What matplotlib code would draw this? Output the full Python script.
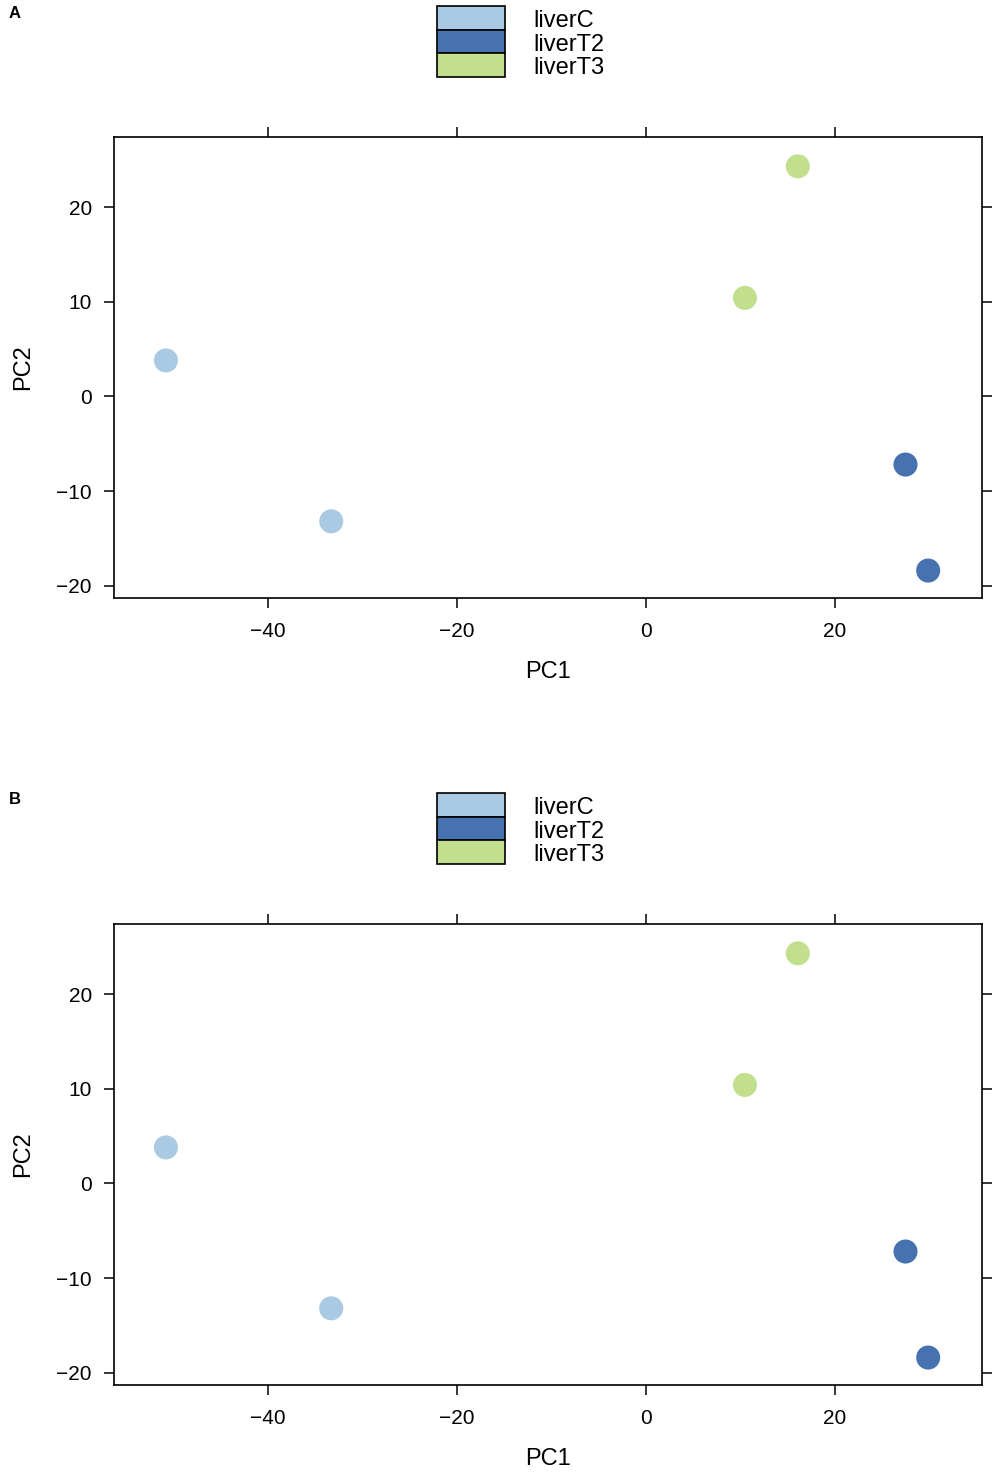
import numpy as np
import matplotlib
matplotlib.use('Agg')
import matplotlib.pyplot as plt
from matplotlib.patches import Rectangle

plt.rcParams['font.family'] = ['Liberation Sans', 'DejaVu Sans']

groups = ['liverC', 'liverT2', 'liverT3']
group_colors = ['#A9CAE2', '#4672B0', '#C1DF8C']
pc1_liverC = [-50.8, -33.3]
pc2_liverC = [3.8, -13.2]
pc1_liverT2 = [27.5, 29.9]
pc2_liverT2 = [-7.2, -18.4]
pc1_liverT3 = [10.5, 16.1]
pc2_liverT3 = [10.4, 24.3]
xticks = [-40, -20, 0, 20]
yticks = [-20, -10, 0, 10, 20]
panel_labels = ['A', 'B']

W, H = 1000, 1474
fig = plt.figure(figsize=(W / 100, H / 100), dpi=100)


def px(x, y):
    # pixel (top-left origin) -> figure fraction
    return x / W, 1 - y / H


def draw_panel(label, off):
    # axes box in pixels: x 114..982, y 137..598 (+ offset)
    left, _ = px(114, 0)
    _, bottom = px(0, 598 + off)
    ax = fig.add_axes([left, bottom, 868 / W, 461 / H])
    xs = [pc1_liverC, pc1_liverT2, pc1_liverT3]
    ys = [pc2_liverC, pc2_liverT2, pc2_liverT3]
    for x, y, c in zip(xs, ys, group_colors):
        ax.scatter(x, y, s=300, color=c, edgecolors='none', zorder=3)
    ax.set_xlim(-56.3, 35.6)
    ax.set_ylim(-21.3, 27.4)
    ax.set_xticks(xticks)
    ax.set_yticks(yticks)
    ax.set_xticklabels([f'\u2212{abs(t)}' if t < 0 else str(t) for t in xticks])
    ax.set_yticklabels([f'\u2212{abs(t)}' if t < 0 else str(t) for t in yticks])
    ax.tick_params(direction='out', length=7, width=1.1, labelsize=15,
                   top=True, right=True, labeltop=False, labelright=False)
    ax.tick_params(axis='x', pad=10)
    ax.tick_params(axis='y', pad=9)
    for sp in ax.spines.values():
        sp.set_linewidth(1.2)
    ax.set_xlabel('PC1', fontsize=17, labelpad=15)
    ax.set_ylabel('PC2', fontsize=17, labelpad=16)

    # key at top, lattice style
    row_h = 23.7
    for i, (g, c) in enumerate(zip(groups, group_colors)):
        y0 = 6 + off + i * row_h
        x0, y1 = px(437, y0 + row_h)
        fig.patches.append(Rectangle((x0, y1), 68 / W, row_h / H, transform=fig.transFigure,
                                     facecolor=c, edgecolor='black', linewidth=1.2))
        tx, ty = px(533, y0 + row_h / 2 + 3)
        fig.text(tx, ty, g, fontsize=17, va='center', ha='left')

    lx, ly = px(15, 13 + off)
    fig.text(lx, ly, label, fontsize=12, fontweight='bold', va='center', ha='center')


draw_panel(panel_labels[0], 0)
draw_panel(panel_labels[1], 787)

fig.savefig('out.png', dpi=100)
